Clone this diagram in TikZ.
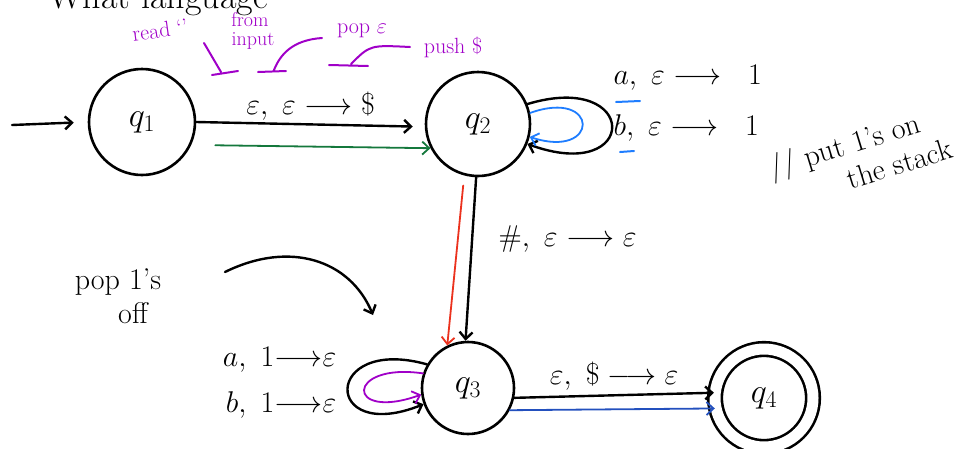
\RequirePackage{fix-cm}
\documentclass[tikz,border=0pt]{standalone}
\usepackage{xcolor}
\usepackage{amsmath}
\usepackage{amssymb}
\usepackage{tikz}
\usetikzlibrary{arrows.meta, calc}

\definecolor{notepurple}{RGB}{160,0,200}
\definecolor{loopblue}{RGB}{30,125,255}
\definecolor{pathgreen}{RGB}{20,120,60}
\definecolor{pathred}{RGB}{235,50,30}
\definecolor{pathblue}{RGB}{35,80,190}

\begin{document}
\begin{tikzpicture}[x=1pt, y=-1pt, line cap=round, line join=round,
    >={Straight Barb[length=7pt,width=13pt]},
    state/.style={draw, circle, line width=2.6pt, inner sep=0pt, font=\fontsize{34}{38}\selectfont},
    accepting/.style={double, double distance=11pt},
    edge/.style={line width=2.4pt, ->},
    trace/.style={line width=1.8pt, ->},
    hand/.style={font=\fontsize{30}{34}\selectfont},
    note/.style={font=\fontsize{22}{22}\selectfont, text=notepurple}]

    % page size of the reference, in pixels
    \useasboundingbox (0,0) rectangle (980,448);
    \clip (0,0) rectangle (980,448);

    % title, cut off at the top
    \node[hand, font=\fontsize{36}{40}\selectfont, anchor=base west] (title) at (45,8) {What language};

    % States
    \node[state, minimum size=106pt] (q1) at (142,122) {$q_1$};
    \node[state, minimum size=104pt] (q2) at (478,124) {$q_2$};
    \node[state, minimum size=92pt]  (q3) at (468,388) {$q_3$};
    \node[state, accepting, minimum size=98pt] (q4) at (764,398) {$q_4$};

    % start arrow
    \coordinate (start) at (12,125);
    \draw[edge, shorten >=14pt] (start) -- (q1.west);

    % q1 -> q2
    \draw[edge, shorten >=12pt] (q1.east) -- node[hand, above=0pt] (lab12) {$\varepsilon,\ \varepsilon \longrightarrow \$$} (q2.183);
    \draw[trace, pathgreen, shorten <=24pt] (q1.-25) -- (q2.207);

    % loop on q2
    \draw[edge] (q2.22) .. controls (640,70) and (640,185) .. (q2.-22);
    \draw[trace, loopblue] (q2.12) .. controls (600,88) and (600,160) .. (q2.-14);
    \node[hand, anchor=west] (la) at (610,78) {$a,\ \varepsilon \longrightarrow\ \ 1$};
    \node[hand, anchor=west] (lb) at (610,128) {$b,\ \varepsilon \longrightarrow\ \ 1$};
    \draw[loopblue, line width=2pt] (616,102) -- (640,101);
    \draw[loopblue, line width=2pt] (620,152) -- (634,151);

    % comment on the right
    \node[hand, rotate=17, align=left] (cmt) at (860,157) {// put 1's on\\ \hspace{2.4em}the stack};

    % q2 -> q3
    \draw[edge] (q2.268) -- node[hand, right=22pt, pos=0.38] (lab23) {$\#,\ \varepsilon \longrightarrow \varepsilon$} (q3.93);
    \draw[trace, pathred, shorten <=10pt] (q2.255) -- (q3.116);

    % loop on q3
    \draw[edge] (q3.150) .. controls (322,335) and (322,445) .. (q3.200);
    \draw[trace, notepurple] (q3.162) .. controls (345,362) and (345,422) .. (q3.188);
    \node[hand, anchor=east] (lc) at (340,360) {$a,\ 1 {\longrightarrow} \varepsilon$};
    \node[hand, anchor=east] (ld) at (340,405) {$b,\ 1 {\longrightarrow} \varepsilon$};

    % note on the left
    \node[hand, align=center] (popnote) at (118,296) {pop 1's\\ \quad off};
    \coordinate (popfrom) at (225,272);
    \coordinate (popto) at (373,315);
    \draw[edge] (popfrom) .. controls (290,240) and (350,260) .. (popto);

    % q3 -> q4
    \draw[edge] (q3.-12) -- node[hand, above=0pt] (lab34) {$\varepsilon,\ \$ \longrightarrow \varepsilon$} (q4.174);
    \draw[trace, pathblue] (q3.-28) -- (q4.192);

    % purple remarks on the first label
    \node[note, rotate=8] (read) at (160,30) {read `'};
    \node[note, align=center, font=\fontsize{20}{19}\selectfont] (from) at (250,31) {from\\ \ input};
    \node[note] (pop) at (362,31) {pop $\varepsilon$};
    \node[note] (push) at (453,47) {push \$};
    \draw[notepurple, line width=2pt] (204,43) -- (221,72) (212,75) -- (238,71);
    \draw[notepurple, line width=2pt] (322,38) .. controls (292,40) and (280,55) .. (274,70) (258,72) -- (286,71);
    \draw[notepurple, line width=2pt] (410,47) .. controls (370,45) .. (351,64) (329,65) -- (368,66);
\end{tikzpicture}
\end{document}
